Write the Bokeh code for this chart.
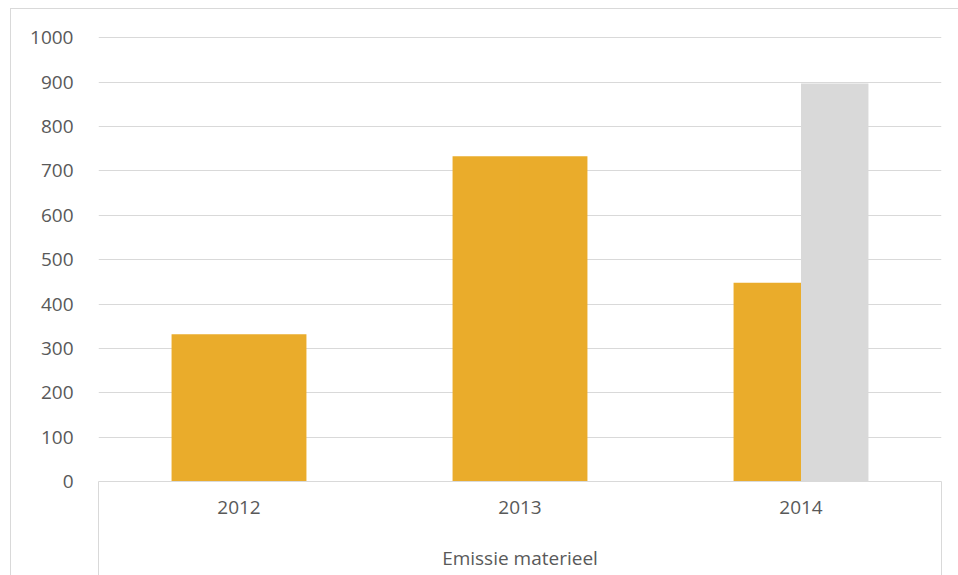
import numpy as np
from bokeh.plotting import figure
from bokeh.models import Range1d, FixedTicker, ColumnDataSource
from bokeh.transform import dodge
from bokeh.embed import file_html
from bokeh.resources import INLINE

# ---- data ----
categories = ["2012", "2013", "2014"]
group_label = "Emissie materieel"
series_a = [332, 733, 448]
series_b = [332, 733, 897]
colors_a = ["#EAAC2B", "#EAAC2B", "#EAAC2B"]
colors_b = ["#EAAC2B", "#EAAC2B", "#D9D9D9"]
y_ticks = [0, 100, 200, 300, 400, 500, 600, 700, 800, 900, 1000]

FONT = "Open Sans"
TEXT = "#595959"
GRID = "#D9D9D9"

xs = list(range(len(categories)))
src = ColumnDataSource(dict(x=xs, a=series_a, b=series_b, ca=colors_a, cb=colors_b))

p = figure(width=947, height=566, output_backend="svg", toolbar_location=None,
           x_range=Range1d(-0.5, len(categories) - 0.5), y_range=Range1d(0, 1003),
           min_border_left=87, min_border_right=18, min_border_top=27, min_border_bottom=95)
p.styles = {"border-left": "1px solid #D9D9D9", "border-top": "1px solid #D9D9D9",
            "margin-left": "10px", "margin-top": "8px", "box-sizing": "content-box"}
p.outline_line_color = None
p.background_fill_color = "white"
p.border_fill_color = "white"

p.vbar(x=dodge("x", -0.12, range=p.x_range), top="a", width=0.24, source=src,
       fill_color="ca", line_color=None)
p.vbar(x=dodge("x", 0.12, range=p.x_range), top="b", width=0.24, source=src,
       fill_color="cb", line_color=None)

# y axis
p.yaxis.ticker = FixedTicker(ticks=y_ticks)
p.yaxis.axis_line_color = None
p.yaxis.major_tick_line_color = None
p.yaxis.minor_tick_line_color = None
p.yaxis.major_label_text_font = FONT
p.yaxis.major_label_text_font_size = "19px"
p.yaxis.major_label_text_color = TEXT
p.yaxis.major_label_standoff = 19
p.ygrid.grid_line_color = GRID
p.ygrid.grid_line_width = 1
p.xgrid.grid_line_color = None

# x axis (category axis with group separators)
p.xaxis.ticker = FixedTicker(ticks=xs, minor_ticks=[-0.5, len(categories) - 0.5])
p.xaxis.major_label_overrides = {i: c for i, c in zip(xs, categories)}
p.xaxis.axis_line_color = GRID
p.xaxis.major_tick_line_color = None
p.xaxis.minor_tick_line_color = GRID
p.xaxis.minor_tick_in = 0
p.xaxis.minor_tick_out = 95
p.xaxis.major_label_text_font = FONT
p.xaxis.major_label_text_font_size = "19px"
p.xaxis.major_label_text_color = TEXT
p.xaxis.major_label_standoff = -76
p.xaxis.axis_label = group_label
p.xaxis.axis_label_text_font = FONT
p.xaxis.axis_label_text_font_size = "19px"
p.xaxis.axis_label_text_font_style = "normal"
p.xaxis.axis_label_text_color = TEXT
p.xaxis.axis_label_standoff = 28

open("out.html", "w").write(file_html(p, INLINE))
